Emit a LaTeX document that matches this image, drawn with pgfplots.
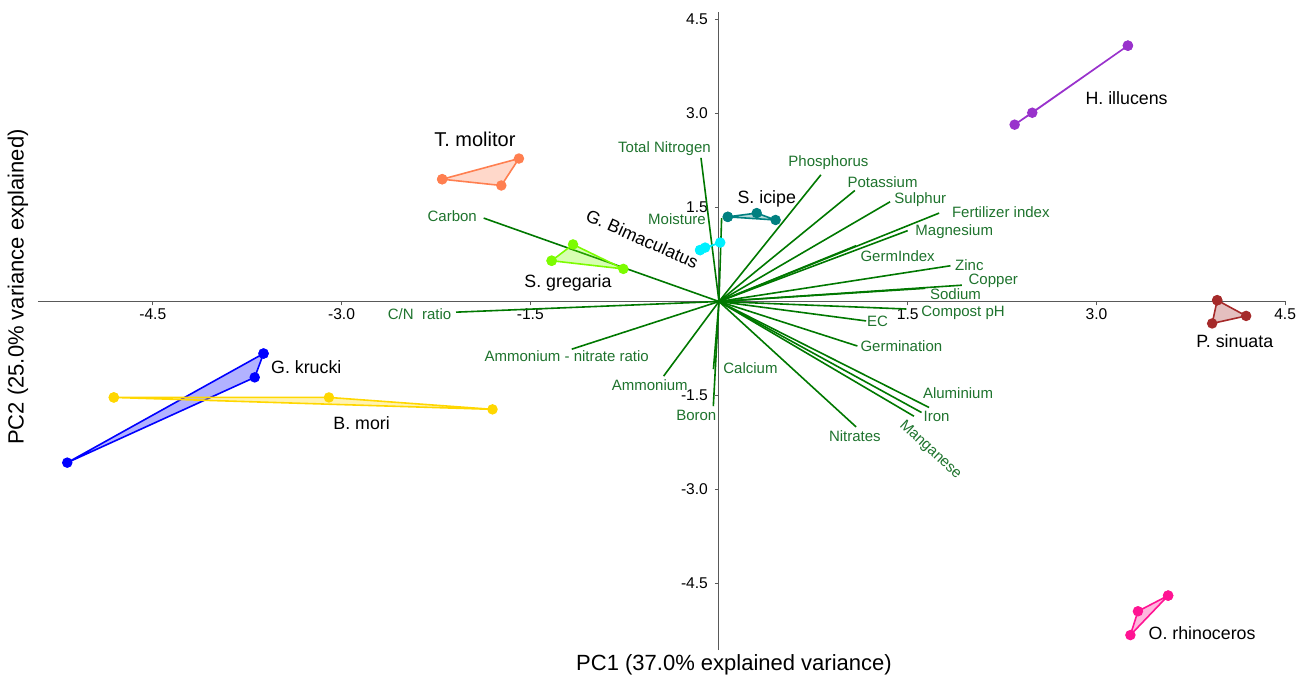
\documentclass[border=0pt]{standalone}
\usepackage{pgfplots}
\pgfplotsset{compat=1.18}
\usepackage{fontspec}
\setmainfont{Liberation Sans}

\definecolor{lg}{RGB}{0,120,0}
\definecolor{lgt}{RGB}{30,115,45}
\definecolor{hill}{RGB}{153,50,204}
\definecolor{psin}{RGB}{165,42,42}
\definecolor{orhi}{RGB}{255,20,147}
\definecolor{tmol}{RGB}{255,127,80}
\definecolor{sgre}{RGB}{124,252,0}
\definecolor{gbim}{RGB}{0,240,255}
\definecolor{sici}{RGB}{0,128,128}
\definecolor{gkru}{RGB}{0,0,255}
\definecolor{bmor}{RGB}{255,215,0}

\pgfplotsset{
  hull/.style={draw=#1, fill=#1, fill opacity=0.3, line width=0.8pt, mark=*, mark size=2.2pt,
    mark options={fill=#1, draw=#1, fill opacity=1, solid}},
  load/.style={draw=lg, line width=0.8pt, no marks},
}
\newcommand{\lt}[3]{\node[text=lgt, font=\fontsize{7.5}{9}\selectfont] at (axis cs:#1,#2) {#3};}
\newcommand{\spl}[3]{\node[text=black, font=\fontsize{8.9}{10}\selectfont] at (axis cs:#1,#2) {#3};}

\begin{document}
\begin{tikzpicture}
\begin{axis}[
  width=624pt, height=319pt, scale only axis,
  xmin=-5.413, xmax=4.507, ymin=-5.558, ymax=4.617,
  axis lines=middle,
  axis line style={draw=black!65, line width=0.5pt, -},
  tick align=outside,
  major tick length=2pt,
  tick style={draw=black!65, line width=0.5pt},
  xtick={-4.5,-3,-1.5,1.5,3,4.5},
  ytick={-4.5,-3,-1.5,1.5,3,4.5},
  /pgf/number format/fixed, /pgf/number format/fixed zerofill, /pgf/number format/precision=1,
  /pgf/number format/assume math mode=true,
  tick label style={font=\fontsize{7.8}{9}\selectfont, text=black},
  xticklabel style={yshift=2pt},
  clip=false,
]
% bounding box
\path (rel axis cs:-0.0304,-0.047) rectangle (rel axis cs:1.0144,1.0188);

% loadings
\addplot[load] coordinates {(0,0) (-0.143,2.29)};   % Total Nitrogen
\addplot[load] coordinates {(0,0) (0.021,1.33)};    % Moisture
\addplot[load] coordinates {(0,0) (-1.87,1.33)};    % Carbon
\addplot[load] coordinates {(0,0) (-2.09,-0.17)};   % C/N ratio
\addplot[load] coordinates {(0,0) (-1.17,-0.76)};   % Ammonium-nitrate
\addplot[load] coordinates {(0,0) (-0.44,-1.19)};   % Ammonium
\addplot[load] coordinates {(0,0) (-0.045,-1.67)};  % Boron
\addplot[load] coordinates {(0,0) (-0.044,-1.08)};  % Calcium
\addplot[load] coordinates {(0,0) (1.09,-2.0)};     % Nitrates
\addplot[load] coordinates {(0,0) (1.55,-1.83)};    % Manganese
\addplot[load] coordinates {(0,0) (1.61,-1.77)};    % Iron
\addplot[load] coordinates {(0,0) (1.67,-1.69)};    % Aluminium
\addplot[load] coordinates {(0,0) (1.10,-0.71)};    % Germination
\addplot[load] coordinates {(0,0) (1.17,-0.31)};    % EC
\addplot[load] coordinates {(0,0) (1.49,-0.12)};    % Compost pH
\addplot[load] coordinates {(0,0) (1.64,0.21)};     % Sodium
\addplot[load] coordinates {(0,0) (1.93,0.26)};     % Copper
\addplot[load] coordinates {(0,0) (1.84,0.57)};     % Zinc
\addplot[load] coordinates {(0,0) (1.09,0.89)};     % GermIndex
\addplot[load] coordinates {(0,0) (1.50,1.13)};     % Magnesium
\addplot[load] coordinates {(0,0) (1.75,1.41)};     % Fertilizer index
\addplot[load] coordinates {(0,0) (1.36,1.59)};     % Sulphur
\addplot[load] coordinates {(0,0) (1.08,1.77)};     % Potassium
\addplot[load] coordinates {(0,0) (0.81,2.02)};     % Phosphorus

% groups
\addplot[hull=hill] coordinates {(3.25,4.08) (2.49,3.01) (2.35,2.82) (3.25,4.08)};
\addplot[hull=psin] coordinates {(3.96,0.02) (4.19,-0.23) (3.92,-0.35) (3.96,0.02)};
\addplot[hull=orhi] coordinates {(3.57,-4.69) (3.33,-4.94) (3.27,-5.32) (3.57,-4.69)};
\addplot[hull=tmol] coordinates {(-2.20,1.95) (-1.59,2.28) (-1.73,1.85) (-2.20,1.95)};
\addplot[hull=sgre] coordinates {(-1.33,0.65) (-1.16,0.91) (-0.76,0.52) (-1.33,0.65)};
\addplot[hull=gbim] coordinates {(-0.15,0.82) (-0.11,0.86) (0.01,0.94) (-0.15,0.82)};
\addplot[hull=sici] coordinates {(0.07,1.35) (0.30,1.41) (0.45,1.30) (0.07,1.35)};
\addplot[hull=gkru] coordinates {(-3.62,-0.83) (-3.69,-1.21) (-5.18,-2.57) (-3.62,-0.83)};
\addplot[hull=bmor] coordinates {(-4.81,-1.53) (-3.10,-1.53) (-1.80,-1.72) (-4.81,-1.53)};

% loading labels
\lt{-0.433}{2.43}{Total Nitrogen}
\lt{-0.334}{1.32}{Moisture}
\lt{-2.12}{1.36}{Carbon}
\lt{-2.38}{-0.20}{C/N\ \ ratio}
\lt{-1.21}{-0.87}{Ammonium - nitrate ratio}
\lt{-0.55}{-1.33}{Ammonium}
\lt{-0.18}{-1.81}{Boron}
\lt{0.25}{-1.06}{Calcium}
\lt{1.08}{-2.15}{Nitrates}
\node[text=lgt, font=\fontsize{7.5}{9}\selectfont, rotate=-43] at (axis cs:1.68,-2.37) {Manganese};
\lt{1.73}{-1.83}{Iron}
\lt{1.90}{-1.46}{Aluminium}
\lt{1.45}{-0.71}{Germination}
\lt{1.26}{-0.31}{EC}
\lt{1.94}{-0.18}{Compost pH}
\lt{1.88}{0.12}{Sodium}
\lt{2.18}{0.33}{Copper}
\lt{1.99}{0.58}{Zinc}
\lt{1.42}{0.73}{GermIndex}
\lt{1.87}{1.11}{Magnesium}
\lt{2.24}{1.43}{Fertilizer index}
\lt{1.60}{1.62}{Sulphur}
\lt{1.30}{1.91}{Potassium}
\lt{0.87}{2.21}{Phosphorus}

% group labels
\node[font=\fontsize{10}{12}\selectfont] at (axis cs:-1.94,2.59) {T. molitor};
\node[font=\fontsize{8.9}{10}\selectfont, rotate=-24] at (axis cs:-0.61,1.00) {G. Bimaculatus};
\spl{-1.20}{0.29}{S. gregaria}
\spl{0.38}{1.63}{S. icipe}
\spl{3.24}{3.25}{H. illucens}
\spl{4.10}{-0.63}{P. sinuata}
\spl{3.84}{-5.29}{O. rhinoceros}
\spl{-3.28}{-1.04}{G. krucki}
\spl{-2.84}{-1.94}{B. mori}

% axis titles
\node[font=\fontsize{11}{13}\selectfont] at (rel axis cs:0.5577,-0.0235) {PC1 (37.0\% explained variance)};
\node[font=\fontsize{11}{13}\selectfont, rotate=90] at (rel axis cs:-0.016,0.569) {PC2 (25.0\% variance explained)};
\end{axis}
\end{tikzpicture}
\end{document}
